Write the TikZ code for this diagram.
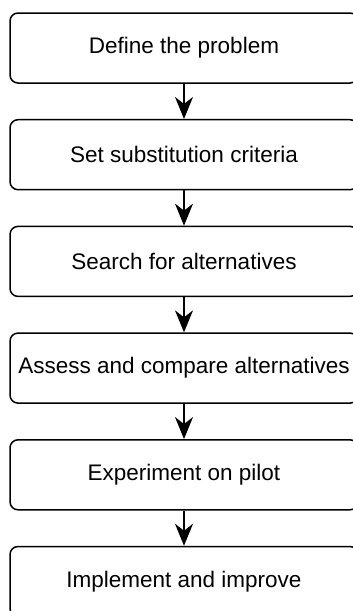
\documentclass[tikz,border=0pt]{standalone}
\usepackage{fontspec}
\setmainfont{Liberation Sans}
\usetikzlibrary{arrows.meta}
\tikzset{
  stepbox/.style={draw=black, fill=white, rounded corners=8pt, line width=1.5pt,
    minimum width=348pt, minimum height=70pt, inner sep=0pt,
    font=\fontsize{22.5}{27}\selectfont},
  flowarrow/.style={line width=1.5pt, -{Stealth[length=22pt,width=18pt,inset=7pt]}}
}
\begin{document}
\begin{tikzpicture}[x=1pt,y=1pt]
\useasboundingbox (0,0) rectangle (353,-611);
\clip (0,0) rectangle (353,-611);
\node[stepbox] (s1) at (184,-48) {Define the problem};
\node[stepbox] (s2) at (184,-154.7) {Set substitution criteria};
\node[stepbox] (s3) at (184,-261.4) {Search for alternatives};
\node[stepbox] (s4) at (184,-368.1) {Assess and compare alternatives};
\node[stepbox] (s5) at (184,-474.8) {Experiment on pilot};
\node[stepbox] (s6) at (184,-581.5) {Implement and improve};
\draw[flowarrow] (s1.south) -- (s2.north);
\draw[flowarrow] (s2.south) -- (s3.north);
\draw[flowarrow] (s3.south) -- (s4.north);
\draw[flowarrow] (s4.south) -- (s5.north);
\draw[flowarrow] (s5.south) -- (s6.north);
\end{tikzpicture}
\end{document}
